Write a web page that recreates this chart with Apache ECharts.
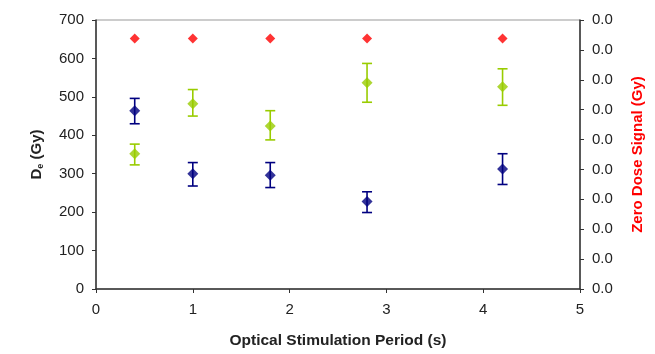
<!DOCTYPE html>
<html><head><meta charset="utf-8">
<script src="https://cdn.jsdelivr.net/npm/echarts@6/dist/echarts.min.js"></script>
<style>html,body{margin:0;padding:0;background:#fff}#c{width:655px;height:354px}</style>
</head><body><div id="c"></div>
<script>
const periods = [0.4, 1, 1.8, 2.8, 4.2];
const navyDe = [464, 300, 296, 228, 312];
const navyLow = [430, 268, 264, 199, 272];
const navyHigh = [496, 329, 329, 253, 352];
const greenDe = [352, 482, 424, 537, 526];
const greenLow = [323, 450, 388, 486, 478];
const greenHigh = [377, 519, 464, 587, 573];
const zeroDose = [0.00838, 0.00838, 0.00838, 0.00838, 0.00838];
const xTicks = [0, 1, 2, 3, 4, 5];
const leftTicks = [0, 100, 200, 300, 400, 500, 600, 700];

const NAVY = '#000080', GREEN = '#99cc00', RED = '#ff0000';
const font = 'Liberation Sans, Arial, sans-serif';

function errSeries(low, high, color) {
  return {
    type: 'custom', yAxisIndex: 0, z: 3,
    data: periods.map((p, i) => [p, low[i], high[i]]),
    renderItem: function (params, api) {
      const a = api.coord([api.value(0), api.value(1)]);
      const b = api.coord([api.value(0), api.value(2)]);
      const w = 5;
      const st = { stroke: color, lineWidth: 1.6 };
      return { type: 'group', children: [
        { type: 'line', shape: { x1: a[0], y1: a[1], x2: b[0], y2: b[1] }, style: st },
        { type: 'line', shape: { x1: a[0] - w, y1: a[1], x2: a[0] + w, y2: a[1] }, style: st },
        { type: 'line', shape: { x1: b[0] - w, y1: b[1], x2: b[0] + w, y2: b[1] }, style: st }
      ]};
    }
  };
}

const chart = echarts.init(document.getElementById('c'));
chart.setOption({
  animation: false,
  grid: { left: 96, right: 75, top: 20, bottom: 63, show: true, borderColor: '#999', borderWidth: 1 },
  xAxis: {
    type: 'value', min: xTicks[0], max: xTicks[xTicks.length - 1], interval: 1,
    axisLine: { lineStyle: { color: '#333', width: 1.5 } },
    axisTick: { show: true, length: 4, lineStyle: { color: '#333' } },
    axisLabel: { color: '#222', fontFamily: font, fontSize: 15, margin: 13 },
    splitLine: { show: false },
    name: 'Optical Stimulation Period (s)', nameLocation: 'middle', nameGap: 44,
    nameTextStyle: { fontFamily: font, fontSize: 15.5, fontWeight: 'bold', color: '#222' }
  },
  yAxis: [{
    type: 'value', min: leftTicks[0], max: leftTicks[leftTicks.length - 1], interval: 100,
    axisLine: { show: true, lineStyle: { color: '#333', width: 1.5 } },
    axisTick: { show: true, length: 4, lineStyle: { color: '#333' } },
    axisLabel: { color: '#222', fontFamily: font, fontSize: 15, margin: 12 },
    splitLine: { show: false },
    name: '{b|D}{s|e}{b| (Gy)}', nameLocation: 'middle', nameGap: 51, nameRotate: 90,
    nameTextStyle: { rich: {
      b: { fontFamily: font, fontSize: 15, fontWeight: 'bold', color: '#222' },
      s: { fontFamily: font, fontSize: 9, fontWeight: 'bold', color: '#222', verticalAlign: 'bottom', padding: [7, 0, 0, 0] }
    } }
  }, {
    type: 'value', position: 'right', min: 0, max: 0.009, interval: 0.001,
    axisLine: { show: true, lineStyle: { color: '#333', width: 1.5 } },
    axisTick: { show: true, length: 4, lineStyle: { color: '#333' } },
    axisLabel: { color: '#222', fontFamily: font, fontSize: 15, margin: 12, formatter: v => v.toFixed(1) },
    splitLine: { show: false },
    name: 'Zero Dose Signal (Gy)', nameLocation: 'middle', nameGap: 50, nameRotate: 90,
    nameTextStyle: { fontFamily: font, fontSize: 15, fontWeight: 'bold', color: RED }
  }],
  series: [
    errSeries(navyLow, navyHigh, NAVY),
    errSeries(greenLow, greenHigh, GREEN),
    { type: 'scatter', yAxisIndex: 0, z: 4, symbol: 'diamond', symbolSize: 11,
      itemStyle: { color: NAVY }, data: periods.map((p, i) => [p, navyDe[i]]) },
    { type: 'scatter', yAxisIndex: 0, z: 4, symbol: 'diamond', symbolSize: 11,
      itemStyle: { color: GREEN }, data: periods.map((p, i) => [p, greenDe[i]]) },
    { type: 'scatter', yAxisIndex: 1, z: 4, symbol: 'diamond', symbolSize: 10,
      itemStyle: { color: RED }, data: periods.map((p, i) => [p, zeroDose[i]]) }
  ]
});
</script></body></html>
